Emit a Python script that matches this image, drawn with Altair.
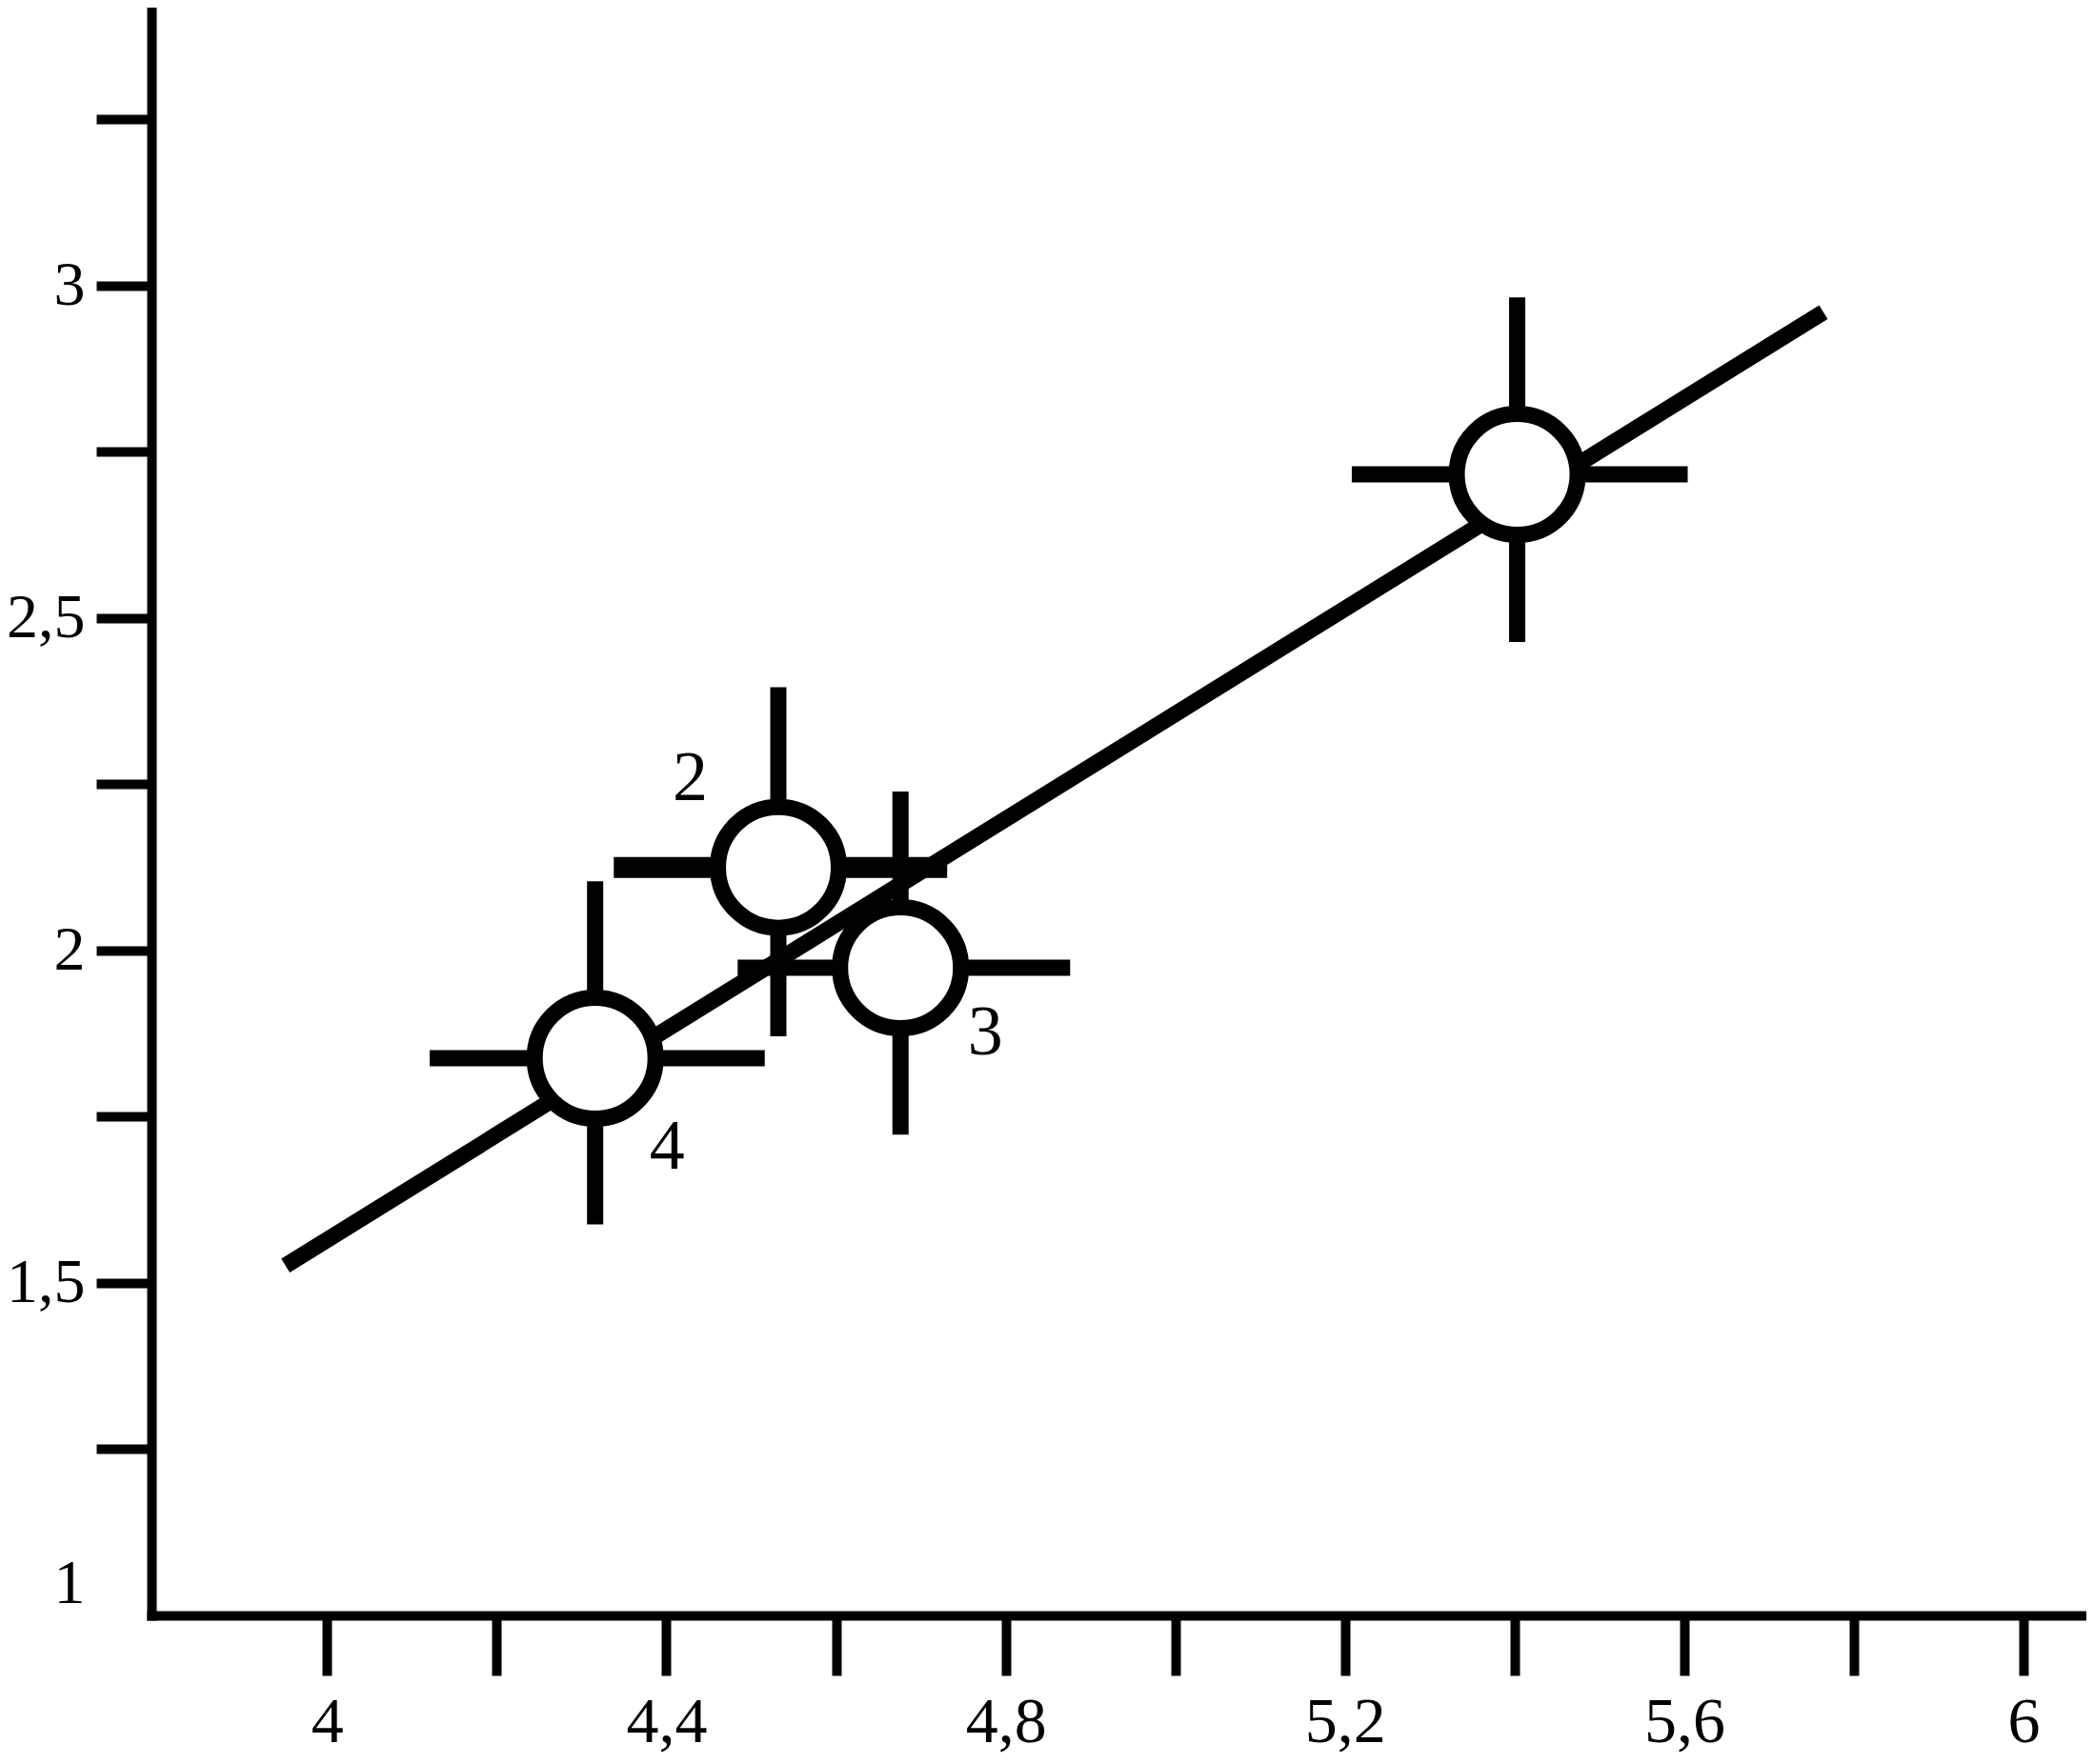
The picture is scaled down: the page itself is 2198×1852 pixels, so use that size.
import altair as alt
import pandas as pd

# ---- data ----
point_id = ["1", "2", "3", "4"]
x_center = [5.403, 4.532, 4.676, 4.316]
y_center = [2.716, 2.125, 1.974, 1.838]
x_low = [5.208, 4.338, 4.484, 4.121]
x_high = [5.604, 4.731, 4.876, 4.516]
y_low = [2.464, 1.871, 1.723, 1.588]
y_high = [2.982, 2.396, 2.239, 2.104]

label_text = ["2", "3", "4"]
label_x = [4.428, 4.776, 4.401]
label_y = [2.257, 1.875, 1.703]

fit_x = [3.951, 5.764]
fit_y = [1.526, 2.960]

x_ticks = [4.0, 4.2, 4.4, 4.6, 4.8, 5.0, 5.2, 5.4, 5.6, 5.8, 6.0]
y_ticks = [1.0, 1.25, 1.5, 1.75, 2.0, 2.25, 2.5, 2.75, 3.0, 3.25]
x_domain = [3.793, 6.074]
y_domain = [1.0, 3.418]

points = pd.DataFrame({"id": point_id, "x": x_center, "y": y_center,
                       "xlo": x_low, "xhi": x_high, "ylo": y_low, "yhi": y_high})
labels = pd.DataFrame({"t": label_text, "x": label_x, "y": label_y})
fit = pd.DataFrame({"x": fit_x, "y": fit_y})

FONT = "Liberation Serif"

x_axis = alt.Axis(
    values=x_ticks, title=None, grid=False,
    labelExpr="round(datum.value*10) % 4 == 0 ? replace(format(datum.value, '~g'), '.', ',') : ''",
    domainColor="black", domainWidth=10, domainCap="square",
    tickColor="black", tickWidth=10, tickSize=63,
    labelFont=FONT, labelFontSize=68, labelColor="black", labelPadding=15,
    labelFlush=False, labelOverlap=False,
)
y_axis = alt.Axis(
    values=y_ticks, title=None, grid=False,
    labelExpr="round(datum.value*4) % 2 == 0 ? replace(format(datum.value, '~g'), '.', ',') : ''",
    domainColor="black", domainWidth=10, domainCap="square",
    tickColor="black", tickWidth=10, tickSize=58,
    tickOpacity={"condition": {"test": "datum.value == 1", "value": 0}, "value": 1},
    labelFont=FONT, labelFontSize=66, labelColor="black", labelPadding=12,
    labelFlush=True, labelOverlap=False,
)
xs = alt.Scale(domain=x_domain, zero=False, nice=False)
ys = alt.Scale(domain=y_domain, zero=False, nice=False)


def X(field):
    return alt.X(f"{field}:Q", scale=xs, axis=x_axis)


def Y(field):
    return alt.Y(f"{field}:Q", scale=ys, axis=y_axis)


line = alt.Chart(fit).mark_line(color="black", strokeWidth=17, strokeCap="butt").encode(
    x=X("x"), y=Y("y"))

vbars = alt.Chart(points).mark_rule(color="black", strokeWidth=17, strokeCap="butt").encode(
    x=X("x"), y=Y("ylo"), y2="yhi")

hbars = alt.Chart(points).mark_rule(color="black", strokeCap="butt").encode(
    x=X("xlo"), x2="xhi", y=Y("y"),
    strokeWidth=alt.condition(alt.datum.id == "2", alt.value(22), alt.value(17)))

circles = alt.Chart(points).mark_point(
    shape="circle", filled=True, fill="white", stroke="black",
    strokeWidth=17, size=16129, opacity=1).encode(x=X("x"), y=Y("y"))

texts = alt.Chart(labels).mark_text(
    font=FONT, fontSize=74, color="black", align="center", baseline="middle").encode(
    x=X("x"), y=Y("y"), text="t:N")

chart = alt.layer(line, vbars, hbars, circles, texts).properties(
    width=2031, height=1688,
    autosize=alt.AutoSizeParams(type="none"),
    padding={"left": 151, "top": 0, "right": 0, "bottom": 148},
    background="white",
).configure_view(stroke=None)

chart.save("out.html", embed_options={"renderer": "svg", "actions": False})
